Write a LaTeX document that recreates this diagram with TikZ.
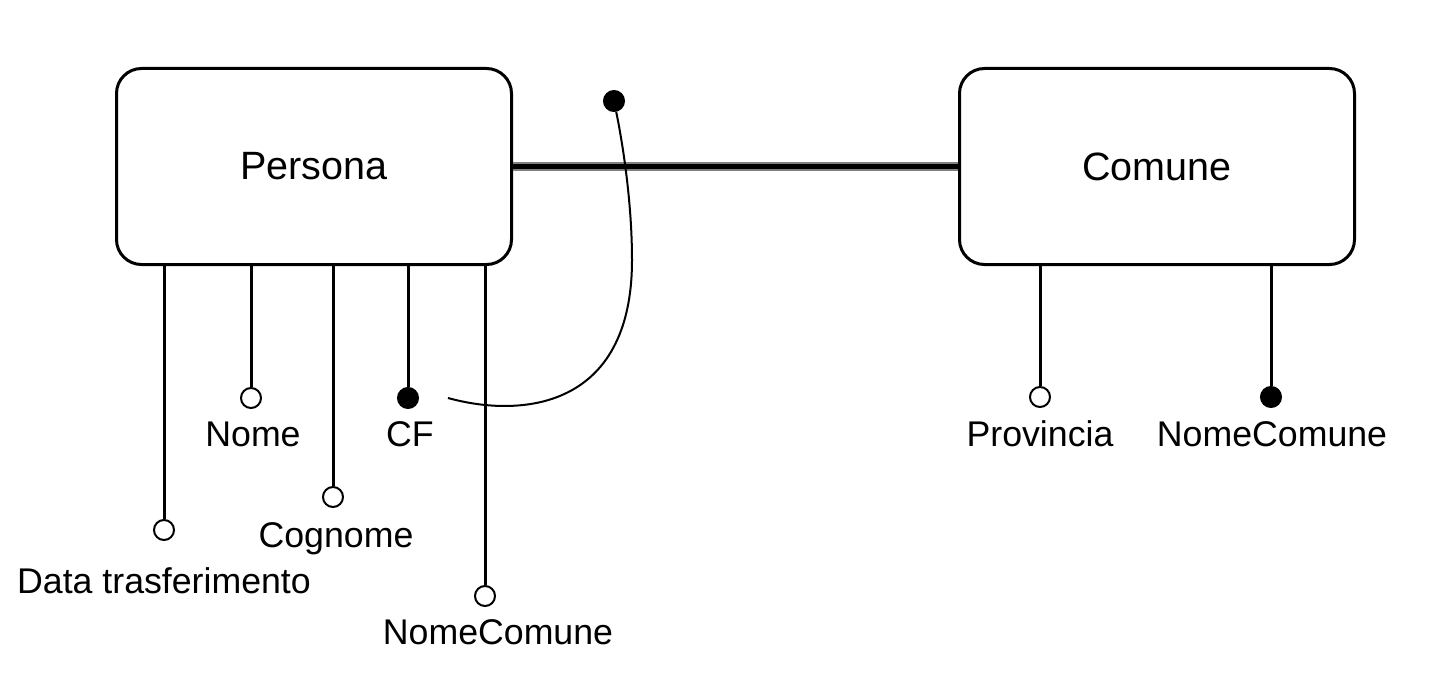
\documentclass[tikz,border=0pt]{standalone}
\usepackage{fontspec}
\setmainfont{Liberation Sans}
\begin{document}
\begin{tikzpicture}[x=0.5pt,y=-0.5pt,
  entity/.style={draw,line width=1.5pt,rounded corners=12.5pt,minimum width=197.5pt,minimum height=98pt,inner sep=0pt,font=\fontsize{19.75}{22}\selectfont},
  opt/.style={circle,draw,fill=white,line width=1pt,minimum size=10pt,inner sep=0pt},
  keyattr/.style={circle,draw,fill=black,line width=1pt,minimum size=10pt,inner sep=0pt},
  lbl/.style={anchor=base,inner sep=0pt,font=\fontsize{17.85}{20}\selectfont},
  attrline/.style={line width=1.5pt},
  idcurve/.style={line width=1pt}]
\useasboundingbox (0,0) rectangle (1436,690);
\node[entity] (pers) at (314,166.5) {Persona};
\node[entity] (com) at (1157,166.5) {Comune};
% relationship line
\draw[black!50,line width=4.5pt] (pers.east) -- (com.west);
\draw[black,line width=2.2pt] (pers.east) -- (com.west);
% Persona attributes
\node[opt] (data) at (164,530) {};
\node[opt] (nome) at (251,398) {};
\node[opt] (cogn) at (333,497) {};
\node[keyattr] (cf) at (408,398) {};
\node[opt] (ncp) at (485,596) {};
\draw[attrline] (pers.south -| data) -- (data);
\draw[attrline] (pers.south -| nome) -- (nome);
\draw[attrline] (pers.south -| cogn) -- (cogn);
\draw[attrline] (pers.south -| cf) -- (cf);
\draw[attrline] (pers.south -| ncp) -- (ncp);
\node[lbl] (ldata) at (164,593) {Data trasferimento};
\node[lbl] (lnome) at (253,446) {Nome};
\node[lbl] (lcogn) at (336,547) {Cognome};
\node[lbl] (lcf) at (410,446) {CF};
\node[lbl] (lncp) at (498,644) {NomeComune};
% Comune attributes
\node[opt] (prov) at (1040,397) {};
\node[keyattr] (ncc) at (1271,397) {};
\draw[attrline] (com.south -| prov) -- (prov);
\draw[attrline] (com.south -| ncc) -- (ncc);
\node[lbl] (lprov) at (1040,446) {Provincia};
\node[lbl] (lncc) at (1272,446) {NomeComune};
% external identifier
\node[keyattr] (idk) at (614,101) {};
\coordinate (cstart) at (448,398);
\draw[idcurve] (cstart) .. controls (520,418) and (632,410) .. (632,260)
  .. controls (632,200) and (622,140) .. (idk);
\end{tikzpicture}
\end{document}
